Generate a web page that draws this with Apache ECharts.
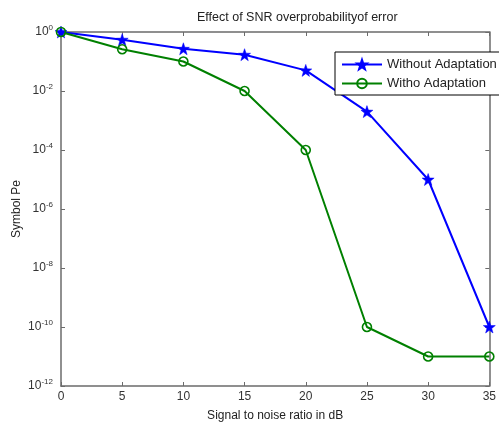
<!DOCTYPE html>
<html>
<head>
<meta charset="utf-8">
<script src="https://cdn.jsdelivr.net/npm/echarts@6/dist/echarts.min.js"></script>
<style>html,body{margin:0;padding:0;background:#fff}#c{width:499px;height:427px}</style>
</head>
<body>
<div id="c"></div>
<script>
var snr = [0, 5, 10, 15, 20, 25, 30, 35];
var withoutAdaptation = [1, 0.55, 0.27, 0.17, 0.05, 0.002, 1e-5, 1e-10];
var withAdaptation = [1, 0.26, 0.1, 0.01, 1e-4, 1e-10, 1e-11, 1e-11];
var xTicks = [0, 5, 10, 15, 20, 25, 30, 35];
var yTickExponents = [0, -2, -4, -6, -8, -10, -12];
var seriesNames = ['Without Adaptation', 'Witho Adaptation'];
var titleText = 'Effect of SNR overprobabilityof error';
var xName = 'Signal to noise ratio in dB';
var yName = 'Symbol Pe';

var FONT = 'Liberation Sans, Arial, sans-serif';
var AX = '#6b6b6b';
var starPath = 'path://M0,-10L2.35,-3.24L9.51,-3.09L3.8,1.24L5.88,8.09L0,4L-5.88,8.09L-3.8,1.24L-9.51,-3.09L-2.35,-3.24Z';

function pair(arr) { return snr.map(function (x, i) { return [x, arr[i]]; }); }

var chart = echarts.init(document.getElementById('c'), null, {renderer: 'canvas'});
var axisCommon = {
  axisLine: {show: true, onZero: false, lineStyle: {color: AX, width: 1.5}},
  axisTick: {show: true, inside: true, length: 4, lineStyle: {color: AX, width: 1}},
  splitLine: {show: false}
};
chart.setOption({
  backgroundColor: '#fff',
  animation: false,
  title: {
    text: titleText, left: 192, top: 6,
    textStyle: {fontFamily: FONT, fontSize: 12.5, fontWeight: 'normal', color: '#222'}
  },
  legend: {
    data: seriesNames, orient: 'vertical', left: 335, top: 52,
    backgroundColor: '#fff', borderColor: '#000', borderWidth: 1,
    padding: [6, 8, 5, 6], itemGap: 6, itemWidth: 40, itemHeight: 12,
    textStyle: {fontFamily: FONT, fontSize: 13, color: '#222'}
  },
  grid: {left: 61, right: 8, top: 32, bottom: 40, containLabel: false},
  xAxis: [
    Object.assign({
      type: 'value', min: 0, max: 35, interval: 5, position: 'bottom',
      name: xName, nameLocation: 'middle', nameGap: 24, nameMoveOverlap: false,
      nameTextStyle: {fontFamily: FONT, fontSize: 12, color: '#222'},
      axisLabel: {fontFamily: FONT, fontSize: 12, color: '#333', margin: 5,
        formatter: function (v) { return xTicks.indexOf(v) >= 0 ? String(v) : ''; }}
    }, axisCommon),
    Object.assign({
      type: 'value', min: 0, max: 35, interval: 5, position: 'top',
      axisLabel: {show: false}
    }, axisCommon)
  ],
  yAxis: [
    Object.assign({
      type: 'log', logBase: 10, min: 1e-12, max: 1, interval: 2, position: 'left',
      name: yName, nameLocation: 'middle', nameGap: 38, nameRotate: 90, nameMoveOverlap: false,
      nameTextStyle: {fontFamily: FONT, fontSize: 12, color: '#222'},
      axisLabel: {
        margin: 8, color: '#333',
        formatter: function (v) {
          var e = Math.round(Math.log10(v));
          if (yTickExponents.indexOf(e) < 0) return '';
          return '{b|10}{s|' + e + '}';
        },
        rich: {
          b: {fontFamily: FONT, fontSize: 12, color: '#333'},
          s: {fontFamily: FONT, fontSize: 8, color: '#333', verticalAlign: 'top', padding: [0, 0, 8, 0]}
        }
      }
    }, axisCommon),
    Object.assign({
      type: 'log', logBase: 10, min: 1e-12, max: 1, interval: 2, position: 'right',
      axisLabel: {show: false}
    }, axisCommon)
  ],
  series: [
    {
      name: seriesNames[0], type: 'line', data: pair(withoutAdaptation),
      symbol: starPath, symbolSize: 12,
      lineStyle: {color: '#0000ff', width: 2},
      itemStyle: {color: '#0000ff', borderColor: '#0000ff', borderWidth: 0.5}
    },
    {
      name: seriesNames[1], type: 'line', data: pair(withAdaptation),
      symbol: 'circle', symbolSize: 9,
      lineStyle: {color: '#008000', width: 2},
      itemStyle: {color: 'rgba(0,0,0,0)', borderColor: '#008000', borderWidth: 1.6}
    }
  ]
});
</script>
</body>
</html>
